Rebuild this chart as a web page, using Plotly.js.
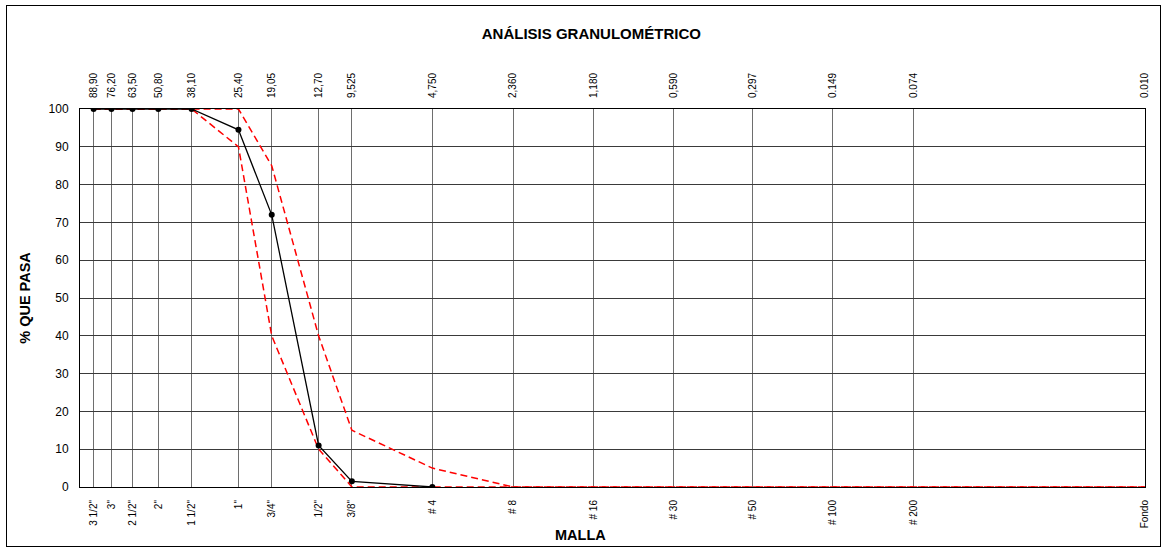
<!DOCTYPE html>
<html>
<head>
<meta charset="utf-8">
<script src="https://cdn.plot.ly/plotly-3.0.1.min.js"></script>
<style>
  html, body { margin: 0; padding: 0; background: #fff; }
  #wrap { position: relative; width: 1164px; height: 550px; }
  #chart { position: absolute; left: 0; top: 0; width: 1164px; height: 550px; }
  #frame { position: absolute; left: 6px; top: 5px; width: 1153px; height: 540px; border: 1px solid #000; pointer-events: none; }
</style>
</head>
<body>
<div id="wrap">
  <div id="chart"></div>
  <div id="frame"></div>
</div>
<script>
// Sieve openings (mm) and names
const sieveSizes = [88.9, 76.2, 63.5, 50.8, 38.1, 25.4, 19.05, 12.7, 9.525, 4.75, 2.36, 1.18, 0.59, 0.297, 0.149, 0.074, 0.010];
const sieveSizeLabels = ["88,90", "76,20", "63,50", "50,80", "38,10", "25,40", "19,05", "12,70", "9,525", "4,750", "2,360", "1,180", "0,590", "0,297", "0.149", "0.074", "0.010"];
const sieveNames = ['3 1/2"', '3"', '2 1/2"', '2"', '1 1/2"', '1"', '3/4"', '1/2"', '3/8"', '# 4', '# 8', '# 16', '# 30', '# 50', '# 100', '# 200', 'Fondo'];

// Sample grading curve (% passing)
const sampleSizes = [88.9, 76.2, 63.5, 50.8, 38.1, 25.4, 19.05, 12.7, 9.525, 4.75];
const samplePassing = [100, 100, 100, 100, 100, 94.5, 72, 11, 1.5, 0];

// Specification limits (% passing)
const limitSizes = [88.9, 76.2, 63.5, 50.8, 38.1, 25.4, 19.05, 12.7, 9.525, 4.75, 2.36, 1.18, 0.59, 0.297, 0.149, 0.074, 0.010];
const upperLimit = [100, 100, 100, 100, 100, 100, 85, 40, 15, 5, 0, 0, 0, 0, 0, 0, 0];
const lowerLimit = [100, 100, 100, 100, 100, 90, 40, 10, 0, 0, 0, 0, 0, 0, 0, 0, 0];

const fontFam = '"Liberation Sans", Arial, sans-serif';

const traces = [
  { x: limitSizes, y: upperLimit, type: 'scatter', mode: 'lines', xaxis: 'x', yaxis: 'y',
    line: { color: '#ff0000', width: 1.5, dash: '7px,4px' }, hoverinfo: 'skip' },
  { x: limitSizes, y: lowerLimit, type: 'scatter', mode: 'lines', xaxis: 'x', yaxis: 'y',
    line: { color: '#ff0000', width: 1.5, dash: '7px,4px' }, hoverinfo: 'skip' },
  { x: sampleSizes, y: samplePassing, type: 'scatter', mode: 'lines+markers', xaxis: 'x', yaxis: 'y',
    line: { color: '#000000', width: 1.3 }, marker: { color: '#000000', size: 6 } },
  // invisible trace to activate the top axis
  { x: [sieveSizes[0]], y: [100], type: 'scatter', mode: 'markers', xaxis: 'x2', yaxis: 'y',
    marker: { opacity: 0 }, hoverinfo: 'skip' }
];

const layout = {
  width: 1164, height: 550,
  margin: { l: 80, r: 19, t: 109, b: 63 },
  paper_bgcolor: '#ffffff', plot_bgcolor: '#ffffff',
  showlegend: false,
  font: { family: fontFam, color: '#000', size: 10 },
  title: { text: '<b>ANÁLISIS GRANULOMÉTRICO</b>', font: { family: fontFam, size: 15, color: '#000' },
           x: 0.508, xanchor: 'center', y: 0.938, yanchor: 'middle' },
  xaxis: {
    type: 'log', range: [Math.log10(100), Math.log10(0.01)],
    tickmode: 'array', tickvals: sieveSizes, ticktext: sieveNames,
    tickangle: -90, tickfont: { family: fontFam, size: 10, color: '#000' },
    ticklabelstandoff: 8,
    showgrid: true, gridcolor: '#6e6e6e', gridwidth: 1,
    showline: true, linecolor: '#000', linewidth: 1, mirror: true,
    ticks: '', zeroline: false
  },
  xaxis2: {
    type: 'log', range: [Math.log10(100), Math.log10(0.01)],
    overlaying: 'x', side: 'top', matches: 'x',
    tickmode: 'array', tickvals: sieveSizes, ticktext: sieveSizeLabels,
    tickangle: -90, tickfont: { family: fontFam, size: 10, color: '#000' },
    ticklabelstandoff: 10,
    showgrid: false, showline: false, ticks: '', zeroline: false
  },
  yaxis: {
    range: [0, 100], dtick: 10, tick0: 0,
    tickfont: { family: fontFam, size: 12, color: '#000' },
    ticklabelstandoff: 8,
    showgrid: true, gridcolor: '#3a3a3a', gridwidth: 1,
    showline: true, linecolor: '#000', linewidth: 1, mirror: true,
    ticks: '', zeroline: false,
    title: { text: '<b>% QUE PASA</b>', font: { family: fontFam, size: 14.5, color: '#000' }, standoff: 14 }
  },
  annotations: [
    { text: '<b>MALLA</b>', xref: 'paper', yref: 'paper', x: 0.4695, y: -0.127,
      xanchor: 'center', yanchor: 'middle', showarrow: false,
      font: { family: fontFam, size: 14.5, color: '#000' } }
  ]
};

Plotly.newPlot('chart', traces, layout, { staticPlot: true, displayModeBar: false });
</script>
</body>
</html>
